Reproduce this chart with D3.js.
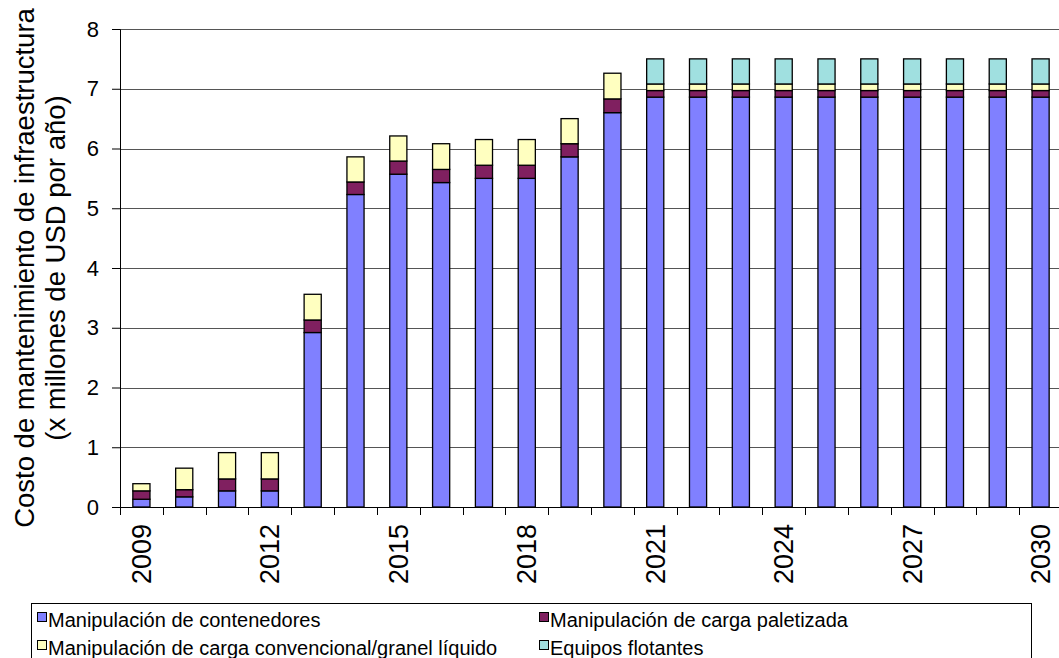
<!DOCTYPE html>
<html lang="es">
<head>
<meta charset="UTF-8">
<title>Costo de mantenimiento</title>
<script src="https://cdn.jsdelivr.net/npm/d3@7"></script>
<style>
  body { margin: 0; background: #fff; }
  text { font-family: Arial, "Liberation Sans", sans-serif; fill: #000; }
</style>
</head>
<body>
<script>
    // datos
    var years = ['2009','2010','2011','2012','2013','2014','2015','2016','2017','2018','2019',
                 '2020','2021','2022','2023','2024','2025','2026','2027','2028','2029','2030'];
    var contenedores = [0.13,0.17,0.27,0.27,2.92,5.23,5.57,5.43,5.50,5.50,5.86,
                        6.60,6.86,6.86,6.86,6.86,6.86,6.86,6.86,6.86,6.86,6.86];
    var paletizada = [0.14,0.12,0.20,0.20,0.21,0.21,0.22,0.22,0.22,0.22,0.22,
                      0.23,0.11,0.11,0.11,0.11,0.11,0.11,0.11,0.11,0.11,0.11];
    var convencional = [0.12,0.36,0.44,0.44,0.43,0.42,0.42,0.43,0.43,0.43,0.42,
                        0.43,0.11,0.11,0.11,0.11,0.11,0.11,0.11,0.11,0.11,0.11];
    var flotantes = [0,0,0,0,0,0,0,0,0,0,0,
                     0,0.42,0.42,0.42,0.42,0.42,0.42,0.42,0.42,0.42,0.42];
    var yTicks = [0,1,2,3,4,5,6,7,8];
    var seriesNames = ['Manipulación de contenedores','Manipulación de carga paletizada',
                       'Manipulación de carga convencional/granel líquido','Equipos flotantes'];
    var colors = ['#8080ff','#802060','#ffffc0','#a0e0e0'];

    var width = 1059, height = 658;
    var plot = {left:120, right:1062, top:29, bottom:507};

    var svg = d3.select('body').append('svg').attr('width',width).attr('height',height);

    var x = d3.scaleBand().domain(years).range([plot.left, plot.right]).paddingInner(0).paddingOuter(0);
    var y = d3.scaleLinear().domain([0,8]).range([plot.bottom, plot.top]);

    // tabla para d3.stack
    var keys = ['c','p','v','f'];
    var table = years.map(function(yr,i){
        return {year:yr, c:contenedores[i], p:paletizada[i], v:convencional[i], f:flotantes[i]};
    });
    var stacked = d3.stack().keys(keys)(table);

    // lineas de cuadricula
    svg.append('g').selectAll('line').data(yTicks.slice(1)).enter().append('line')
        .attr('x1',plot.left).attr('x2',plot.right)
        .attr('y1',function(d){return Math.round(y(d))+0.5;})
        .attr('y2',function(d){return Math.round(y(d))+0.5;})
        .attr('stroke','#555').attr('stroke-width',1);

    // barras
    var barW = x.bandwidth()*0.4;
    svg.append('g').selectAll('g').data(stacked).enter().append('g')
        .attr('fill',function(d,i){return colors[i];})
        .selectAll('rect').data(function(d){return d.filter(function(s){return s[1]-s[0] > 0;});})
        .enter().append('rect')
        .attr('x',function(d){return x(d.data.year) + (x.bandwidth()-barW)/2;})
        .attr('y',function(d){return y(d[1]);})
        .attr('width',barW)
        .attr('height',function(d){return y(d[0]) - y(d[1]);})
        .attr('stroke','#000').attr('stroke-width',1.3);

    // eje y
    var yAxis = d3.axisLeft(y).tickValues(yTicks).tickSize(8).tickPadding(13).tickFormat(d3.format('d'));
    var gy = svg.append('g').attr('transform','translate('+plot.left+',0)').call(yAxis);
    gy.select('.domain').attr('stroke','#000');
    gy.selectAll('text').style('font-size','22px');

    // eje x: marcas en los limites de cada categoria
    var gx = svg.append('g');
    gx.append('line').attr('x1',plot.left).attr('x2',plot.right)
        .attr('y1',plot.bottom+0.5).attr('y2',plot.bottom+0.5).attr('stroke','#000');
    gx.selectAll('line.tick').data(years).enter().append('line').attr('class','tick')
        .attr('x1',function(d){return Math.round(x(d))+0.5;})
        .attr('x2',function(d){return Math.round(x(d))+0.5;})
        .attr('y1',plot.bottom).attr('y2',plot.bottom+8).attr('stroke','#000');
    gx.selectAll('text').data(years.filter(function(d,i){return i%3===0;})).enter().append('text')
        .attr('transform',function(d){
            return 'translate('+(x(d)+x.bandwidth()/2+9.5)+','+(plot.bottom+17)+') rotate(-90)';
        })
        .attr('text-anchor','end')
        .style('font-size','27px')
        .text(function(d){return d;});

    // titulo del eje y
    var cy = (plot.top+plot.bottom)/2;
    svg.append('text').attr('transform','translate(34,'+cy+') rotate(-90)')
        .attr('text-anchor','middle').style('font-size','27.5px')
        .text('Costo de mantenimiento de infraestructura');
    svg.append('text').attr('transform','translate(65,'+cy+') rotate(-90)')
        .attr('text-anchor','middle').style('font-size','27.5px')
        .text('(x millones de USD por año)');

    // leyenda
    var lg = svg.append('g');
    lg.append('rect').attr('x',31.5).attr('y',603.5).attr('width',1000).attr('height',80)
        .attr('fill','#fff').attr('stroke','#000');
    var legendPos = [[37,612],[539,612],[37,640],[539,640]];
    var items = lg.selectAll('g.item').data(seriesNames).enter().append('g').attr('class','item')
        .attr('transform',function(d,i){return 'translate('+legendPos[i][0]+','+legendPos[i][1]+')';});
    items.append('rect').attr('x',0.5).attr('y',0.5).attr('width',9).attr('height',9)
        .attr('fill',function(d,i){return colors[i];}).attr('stroke','#000');
    items.append('text').attr('x',11).attr('y',14.5).style('font-size','20px')
        .text(function(d){return d;});
</script>
</body>
</html>
